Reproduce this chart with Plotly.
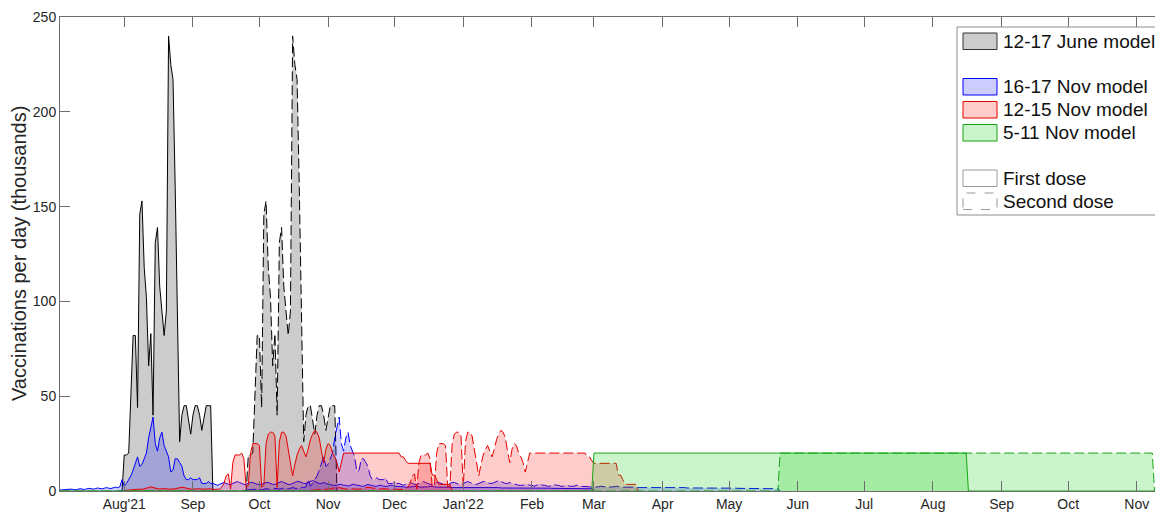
import pandas as pd
import plotly.graph_objects as go

# ---------------- data (thousands of vaccinations per day) ----------------
# 12-17 June model: daily profile (first dose starts 2021-07-29, second dose 8 weeks later)
gray_first_start = "2021-07-29"
gray_second_start = "2021-09-23"
gray_profile = [0, 0, 0, 19, 19, 20, 50, 82, 82, 44, 146, 153, 118, 102, 66, 83, 40,
                131, 139, 108, 95, 82, 95, 240, 225, 217, 160, 95, 26, 40, 45, 45, 38,
                30, 40, 45, 45, 40, 32, 38, 45, 45, 45, 0]

# 16-17 Nov model: daily profile (first dose from 2021-07-03, second dose 12 weeks later)
blue_first_start = "2021-07-03"
blue_second_start = "2021-09-25"
blue_profile = [0.5, 0.6, 0.8, 0.6, 0.7, 1.0, 0.8, 0.6, 0.9, 1.2, 1.0, 0.8, 1.1, 1.4, 1.2,
                1.0, 1.3, 1.6, 1.3, 1.1, 1.5, 1.8, 1.5, 1.3, 1.7, 2.0, 1.8, 2.2, 6.0,
                2.5, 4, 6, 8, 11, 14, 18, 13, 14, 17, 20, 28, 33, 39, 25, 21, 28, 31, 24,
                21, 18, 10, 11, 17, 17, 15, 13, 8, 6, 6, 7, 6, 6, 6, 7, 4, 4, 4, 5, 4, 4,
                3.5, 3,
                3.5, 4, 4.5, 4, 3.5, 3.5, 4, 4.5, 5, 4.5, 4, 3.5, 3.5, 4, 4.5, 4.5, 4, 3.5, 3.5,
                3.5, 4, 4.5, 4.5, 4, 3.5, 3.5, 4, 4.5, 5, 4.5, 4, 3.5, 3.5, 4, 4.5, 5, 5, 4.5,
                4, 4, 4.5, 5, 5.5, 5, 4.5, 4, 4, 4.5, 4,
                3.5, 3.5, 3, 3, 3, 3.5, 3.5, 3, 3, 2.5, 3, 3.5, 3.5, 3, 3, 2.5, 2.5, 3, 3.5, 3,
                3, 2.5, 2.5, 3, 3, 2.5, 2.5, 2.5, 3, 3, 2.5,
                2.5, 2.5, 2.2, 2.2, 2, 2, 2, 2.2, 2.5, 2.5, 2.2, 2, 2, 2, 2.2, 2.5, 2.5, 2.2, 2,
                2, 2, 2.2, 2.2, 2, 2, 1.8, 1.8, 2, 2, 2, 1.8,
                1.8, 1.8, 2, 2, 2, 1.8, 1.8, 1.8, 2, 2, 2, 1.8, 1.8, 1.8, 1.8, 1.8, 1.6, 1.6,
                1.6, 1.8, 1.8, 1.6, 1.6, 1.6, 1.6, 1.6, 1.6, 1.5, 1.5, 1.5,
                1.5, 1.5, 1.5, 1.6, 1.6, 1.5, 1.5, 1.5, 1.5, 1.4, 1.4, 1.4, 1.5, 1.5, 1.4, 1.4,
                1.4, 1.4, 1.3, 1.3, 1.3, 1.3, 1.3, 1.3, 1.2, 1.2, 1.2, 1.2, 0]

# 12-15 Nov model: daily profile (first dose from 2021-08-01, second dose 12 weeks later)
red_first_start = "2021-08-01"
red_second_start = "2021-10-24"
red_profile = [0.3, 0.4, 0.5, 0.6, 0.8, 1.0, 1.2, 1.0, 0.8, 1.2, 1.6, 2.0, 2.2, 1.8, 1.4,
               1.2, 1.0, 1.2, 1.4, 1.2, 1.0, 0.9, 1.0, 1.2, 1.5, 1.8, 2.0, 1.8, 1.5, 1.2,
               1.0, 1.0, 1.2, 1.4, 1.2, 1.0, 0.8, 1.0, 1.2, 1.0, 0.8, 0.8, 1.0,
               1, 2, 4, 8, 9, 1,
               15, 19, 19, 19, 20, 17, 2, 3,
               20, 25, 25, 25, 24, 2, 3,
               25, 30, 31, 31, 29, 2,
               26, 31, 31, 29, 22, 13, 8,
               14, 19, 22, 24, 21, 18, 22, 27, 30, 32, 31, 28, 21, 15, 22, 25, 24, 20, 18,
               15, 10, 15,
               20, 20, 20, 20, 20, 20, 20, 20, 20, 20, 20, 20, 20, 20, 20, 20, 20, 20, 20,
               20, 20, 20, 20, 20, 20, 20,
               18, 18, 16,
               14.6, 14.6, 14.6, 14.6, 14.6, 14.6, 14.6, 14.6, 14.6, 14.6, 14.6,
               8.4, 8.4, 6, 3.5, 3.5, 3.5, 3.5, 3.5, 3.5, 0]

# 5-11 Nov model: breakpoints
green_first_dates = ["2021-07-03", "2022-02-28", "2022-03-01", "2022-08-16", "2022-08-17", "2022-11-09"]
green_first_vals = [0, 0, 20, 20, 0, 0]
green_second_dates = ["2021-07-03", "2022-05-23", "2022-05-24", "2022-11-08", "2022-11-09"]
green_second_vals = [0, 0, 20, 20, 0]

tick_dates = ["2021-08-01", "2021-09-01", "2021-10-01", "2021-11-01", "2021-12-01",
              "2022-01-01", "2022-02-01", "2022-03-01", "2022-04-01", "2022-05-01",
              "2022-06-01", "2022-07-01", "2022-08-01", "2022-09-01", "2022-10-01",
              "2022-11-01"]
tick_labels = ["Aug'21", "Sep", "Oct", "Nov", "Dec", "Jan'22", "Feb", "Mar", "Apr", "May",
               "Jun", "Jul", "Aug", "Sep", "Oct", "Nov"]
y_ticks = [0, 50, 100, 150, 200, 250]

legend_labels = ["12-17 June model", "16-17 Nov model", "12-15 Nov model", "5-11 Nov model",
                 "First dose", "Second dose"]

# ---------------- figure ----------------
def daily(start, vals):
    return pd.date_range(start, periods=len(vals), freq="D")

FONT = "Liberation Sans, Arial, Helvetica, sans-serif"
GRAY_FILL = "rgba(0,0,0,0.2)"
BLUE, BLUE_FILL = "rgb(0,0,255)", "rgba(0,0,255,0.2)"
RED, RED_FILL = "rgb(230,0,0)", "rgba(255,0,0,0.2)"
GREEN, GREEN_FILL = "rgb(20,165,20)", "rgba(0,200,0,0.2)"
DASH = "10px,4px"

fig = go.Figure()

def area(x, y, color, fill, dash="solid"):
    fig.add_trace(go.Scatter(x=x, y=y, mode="lines", fill="tozeroy", fillcolor=fill,
                             line=dict(color=color, width=1, dash=dash),
                             showlegend=False, hoverinfo="skip"))

area(daily(gray_first_start, gray_profile), gray_profile, "black", GRAY_FILL)
area(daily(gray_second_start, gray_profile), gray_profile, "black", GRAY_FILL, DASH)
area(daily(blue_first_start, blue_profile), blue_profile, BLUE, BLUE_FILL)
area(daily(blue_second_start, blue_profile), blue_profile, BLUE, BLUE_FILL, DASH)
area(daily(red_first_start, red_profile), red_profile, RED, RED_FILL)
area(daily(red_second_start, red_profile), red_profile, RED, RED_FILL, DASH)
area(pd.to_datetime(green_first_dates), green_first_vals, GREEN, GREEN_FILL)
area(pd.to_datetime(green_second_dates), green_second_vals, GREEN, GREEN_FILL, DASH)

W, H = 1155, 514
PLOT_L, PLOT_R, PLOT_T, PLOT_B = 60, 1155, 17, 491
L, R, T, B = PLOT_L, W - PLOT_R, PLOT_T, H - PLOT_B
pw, ph = PLOT_R - PLOT_L, PLOT_B - PLOT_T

def px(x):
    return (x - PLOT_L) / pw

def py(y):
    return (PLOT_B - y) / ph

shapes = []
annotations = []
# legend box
shapes.append(dict(type="rect", xref="paper", yref="paper", x0=px(957), x1=px(1170),
                   y0=py(215), y1=py(27), line=dict(color="#8c8c8c", width=1),
                   fillcolor="white", layer="above"))
patches = [
    (33, "#333333", GRAY_FILL, "solid"),
    (78.5, BLUE, BLUE_FILL, "solid"),
    (101.5, RED, RED_FILL, "solid"),
    (124.5, GREEN, GREEN_FILL, "solid"),
    (170, "#9a9a9a", "white", "solid"),
    (193, "#9a9a9a", "white", "dash"),
]
for (top, lc, fc, dsh), label in zip(patches, legend_labels):
    shapes.append(dict(type="rect", xref="paper", yref="paper", x0=px(963), x1=px(997),
                       y0=py(top + 16.5), y1=py(top), fillcolor=fc,
                       line=dict(color=lc, width=1, dash=dsh), layer="above"))
    annotations.append(dict(text=label, xref="paper", yref="paper", x=px(1001),
                            y=py(top + 8.3), xanchor="left", yanchor="middle",
                            showarrow=False, font=dict(family=FONT, size=19, color="#111111")))

annotations.append(dict(text="Vaccinations per day (thousands)", xref="paper", yref="paper",
                        x=px(19), y=0.5, textangle=-90, xanchor="center", yanchor="middle",
                        showarrow=False, font=dict(family=FONT, size=20, color="#262626")))

axis_common = dict(showgrid=False, zeroline=False, showline=True, linecolor="#6e6e6e",
                   linewidth=1, ticks="inside", ticklen=10, tickcolor="#6e6e6e",
                   tickwidth=1, tickfont=dict(family=FONT, size=14, color="#262626"))

fig.update_layout(
    width=W, height=H,
    margin=dict(l=L, r=R, t=T, b=B, pad=0),
    paper_bgcolor="white", plot_bgcolor="white",
    showlegend=False,
    shapes=shapes, annotations=annotations,
    xaxis=dict(type="date", range=["2021-07-03", "2022-11-09 05:00"],
               tickmode="array", tickvals=tick_dates, ticktext=tick_labels,
               mirror="ticks", **axis_common),
    yaxis=dict(range=[0, 250], tickmode="array", tickvals=y_ticks,
               ticktext=[str(v) for v in y_ticks], mirror=False, **axis_common),
)

# remove the default 8px page margin so the figure fills the window exactly
page_fix = ("document.body.style.margin='0px';"
            "document.body.style.overflow='hidden';"
            "document.documentElement.style.overflow='hidden';")
fig.write_html("out.html", post_script=page_fix,
               config={"displayModeBar": False, "staticPlot": True})
